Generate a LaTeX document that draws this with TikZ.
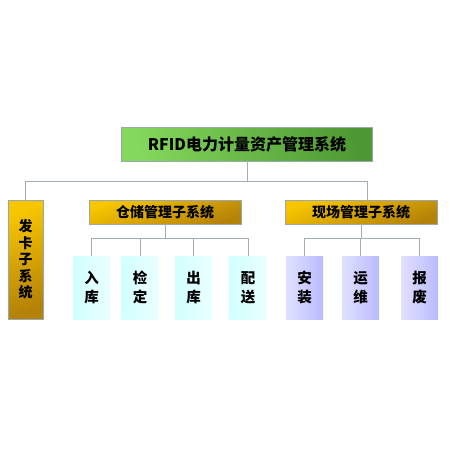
\documentclass[tikz,border=0pt]{standalone}
\usepackage{fontspec}
\newfontfamily\cjk{Noto Sans CJK SC}
\usetikzlibrary{positioning, calc}
\definecolor{lnk}{HTML}{A3ADB5}
\definecolor{bdr}{HTML}{9AA7B0}
\definecolor{grnA}{HTML}{84D85C}
\definecolor{grnB}{HTML}{4E9834}
\definecolor{ylwA}{HTML}{F7C600}
\definecolor{ylwB}{HTML}{B58209}

\begin{document}
\begin{tikzpicture}[x=1pt, y=-1pt,
    every node/.style={font=\cjk},
    top/.style={draw=bdr, line width=0.8pt, minimum width=251pt, minimum height=34pt,
      shading=axis, left color=grnA, right color=grnB,
      shading angle=100, font=\cjk\bfseries\fontsize{16}{19}\selectfont},
    sub/.style={draw=bdr, line width=0.8pt, minimum height=24pt, inner sep=0pt,
      shading=axis, top color=ylwA, bottom color=ylwB, shading angle=20,
      font=\cjk\bfseries\fontsize{14}{16}\selectfont},
    leaf/.style={minimum width=37pt, minimum height=63pt, inner sep=0pt, align=center,
      font=\cjk\bfseries\fontsize{14.5}{19}\selectfont},
    ws/.style={leaf, shading=axis, left color=cyan!18!white, right color=cyan!8!white},
    fs/.style={leaf, shading=axis, left color=blue!12!white, right color=blue!27!white},
    l/.style={draw=lnk, line width=1pt}
]
\useasboundingbox (0,0) rectangle (450,450);

% main system
\node[top] (sys) at (247,144) {RFID电力计量资产管理系统};

% subsystems
\node[sub, minimum width=35pt, minimum height=119pt, align=center,
  font=\cjk\bfseries\fontsize{14}{16.5}\selectfont] (fk) at (25.5,259.5) {发\\卡\\子\\系\\统};
\node[sub, minimum width=152pt] (cc) at (165,212) {仓储管理子系统};
\node[sub, minimum width=152pt] (xc) at (361,212) {现场管理子系统};

% warehouse leaves
\node[ws] (rk) at (91.5,287.5) {入\\库};
\node[ws] (jd) at (140,287.5)  {检\\定};
\node[ws] (ck) at (193.5,287.5){出\\库};
\node[ws] (ps) at (248,287.5)  {配\\送};

% field leaves
\node[fs] (az) at (304.5,288) {安\\装};
\node[fs] (yw) at (360.5,288) {运\\维};
\node[fs] (bf) at (419.5,288) {报\\废};

% connectors
\draw[l] (sys.south) -- ++(0,20) coordinate (bus);
\draw[l] (fk.north) |- (bus) -| ([xshift=6pt]xc.north);

\draw[l] (cc.south) -- ++(0,14) coordinate (ccb);
\draw[l] (rk.north) |- (ccb) -| (ps.north);
\foreach \n in {jd,ck} \draw[l] (\n.north) -- (\n.north |- ccb);

\draw[l] (xc.south) -- ++(0,14) coordinate (xcb);
\draw[l] (az.north) |- (xcb) -| (bf.north);
\draw[l] (yw.north) -- (yw.north |- xcb);
\end{tikzpicture}
\end{document}
